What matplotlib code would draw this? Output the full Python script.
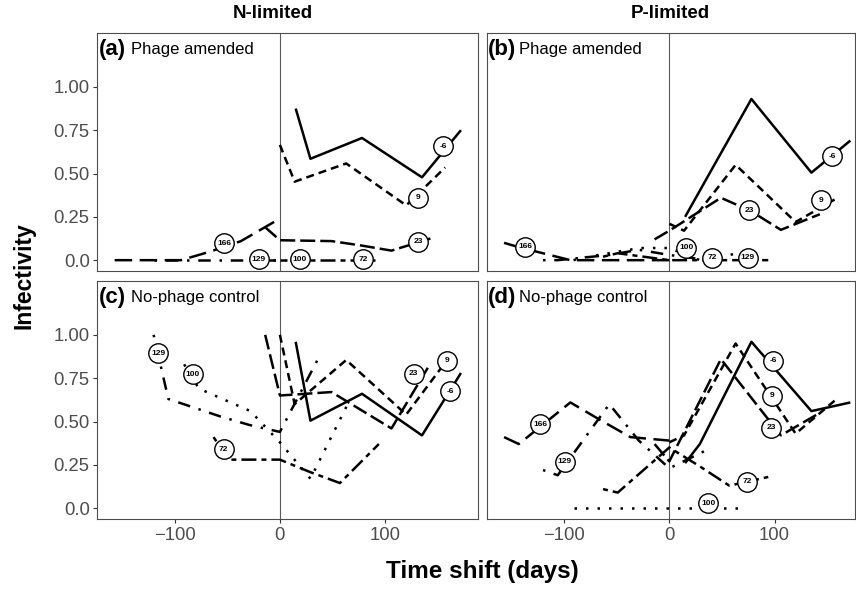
import matplotlib
matplotlib.use('Agg')
import matplotlib.pyplot as plt

plt.rcParams['font.family'] = ['Liberation Sans', 'DejaVu Sans']

PHAGES = ['-6', '9', '23', '72', '100', '129', '166']

# ---- data: time shift (days) and infectivity, per phage line ----
# (a) N-limited, phage amended
a_x = {'-6': [15, 29, 78, 135, 172], '9': [0, 14, 63, 120, 157],
       '23': [-14, 0, 49, 77, 106, 143], '72': [0, 28, 57, 94],
       '100': [-28, 0, 29], '129': [-120, -106, -57, -29, 0],
       '166': [-157, -143, -94, -66, -37, 0]}
a_y = {'-6': [0.875, 0.585, 0.705, 0.478, 0.75], '9': [0.665, 0.453, 0.558, 0.316, 0.535],
       '23': [0.19, 0.115, 0.11, 0.085, 0.055, 0.125], '72': [0, 0, 0, 0],
       '100': [0, 0, 0], '129': [0, 0, 0, 0, 0],
       '166': [0, 0, 0, 0.05, 0.11, 0.24]}
# (b) P-limited, phage amended
b_x = {'-6': [15, 78, 135, 172], '9': [0, 14, 63, 120, 157],
       '23': [-14, 0, 49, 77, 106, 143], '72': [-63, -49, 0, 28, 57, 94],
       '100': [-91, -77, -28, 0, 29, 66], '129': [-120, -106, -57, -29, 0, 37],
       '166': [-157, -143, -94, -66, -37, 0]}
b_y = {'-6': [0.25, 0.93, 0.505, 0.69], '9': [0.21, 0.17, 0.55, 0.22, 0.35],
       '23': [0.12, 0.17, 0.36, 0.285, 0.175, 0.265], '72': [0.02, 0.04, 0, 0, 0, 0],
       '100': [0, 0.02, 0.07, 0.07, 0, 0.04], '129': [0, 0, 0.03, 0.06, 0.03, 0],
       '166': [0.10, 0.075, 0, 0, 0, 0]}
# (c) N-limited, no-phage control
c_x = {'-6': [15, 29, 78, 135, 172], '9': [0, 14, 63, 120, 157],
       '23': [-14, 0, 49, 106, 143], '72': [-63, -49, 0, 28, 57, 94],
       '100': [-91, -77, -28, 0, 29, 66], '129': [-120, -106, -57, -29, 0, 37]}
c_y = {'-6': [0.96, 0.505, 0.66, 0.42, 0.78], '9': [1.0, 0.60, 0.855, 0.54, 0.84],
       '23': [1.0, 0.65, 0.67, 0.46, 0.835], '72': [0.41, 0.28, 0.28, 0.21, 0.145, 0.37],
       '100': [0.83, 0.69, 0.56, 0.38, 0.17, 0.62], '129': [1.0, 0.63, 0.53, 0.48, 0.44, 0.87]}
# (d) P-limited, no-phage control
d_x = {'-6': [15, 29, 78, 135, 172], '9': [0, 14, 63, 120, 157],
       '23': [-14, 0, 49, 106, 143], '72': [-63, -49, 0, 28, 57, 94],
       '100': [-91, -77, -28, 0, 29, 66], '129': [-120, -106, -57, -29, 0, 37],
       '166': [-157, -143, -94, -66, -37, 0]}
d_y = {'-6': [0.26, 0.37, 0.96, 0.56, 0.61], '9': [0.38, 0.42, 0.95, 0.43, 0.62],
       '23': [0.37, 0.27, 0.86, 0.42, 0.55], '72': [0.11, 0.09, 0.35, 0.245, 0.13, 0.18],
       '100': [0, 0, 0, 0, 0, 0], '129': [0.22, 0.19, 0.60, 0.39, 0.23, 0.34],
       '166': [0.41, 0.37, 0.61, 0.51, 0.41, 0.39]}

# direct-label positions (x, y) per phage
a_lab = {'-6': (155, 0.658), '9': (131.5, 0.36), '23': (131.5, 0.105), '72': (79, 0.006),
         '100': (19, 0.006), '129': (-20, 0.006), '166': (-53, 0.098)}
b_lab = {'-6': (155, 0.60), '9': (144, 0.345), '23': (76, 0.288), '72': (41, 0.015),
         '100': (16, 0.073), '129': (74.5, 0.015), '166': (-137, 0.077)}
c_lab = {'-6': (161.6, 0.674), '9': (158.5, 0.852), '23': (127, 0.776), '72': (-53.5, 0.339),
         '100': (-83, 0.774), '129': (-115.6, 0.895)}
d_lab = {'-6': (98.6, 0.852), '9': (97.6, 0.649), '23': (97, 0.464), '72': (74, 0.151),
         '100': (37, 0.027), '129': (-99.2, 0.268), '166': (-122.6, 0.483)}

COL_TITLES = ['N-limited', 'P-limited']
ROW_TITLES = ['Phage amended', 'No-phage control']
TAGS = ['(a)', '(b)', '(c)', '(d)']
Y_TICKS = [0.0, 0.25, 0.5, 0.75, 1.0]
Y_TICKLABELS = ['0.0', '0.25', '0.50', '0.75', '1.00']
X_TICKS = [-100, 0, 100]

# ---- styles ----
LS = {'-6': '-', '9': (0, (3.2, 2.0)), '23': (0, (6, 2)), '72': (0, (2, 2, 6, 2)),
      '100': (0, (1, 3.6)), '129': (0, (1, 3.5, 5, 3.5)), '166': (0, (7, 3))}

W, H = 856, 590
fig = plt.figure(figsize=(W / 100, H / 100), dpi=100)

def frac_box(left, top, right, bottom):
    return [left / W, 1 - bottom / H, (right - left) / W, (bottom - top) / H]

# right column is cut at the image edge (same day-scale as the left column)
boxes = [frac_box(97.3, 32.7, 478.3, 271), frac_box(486.7, 32.7, 855.3, 271),
         frac_box(97.3, 280.7, 478.3, 519), frac_box(486.7, 280.7, 855.3, 519)]
xlims = [(-173.5, 188.5), (-173.5, 176.7), (-173.5, 188.5), (-173.5, 176.7)]
panels = [(a_x, a_y, a_lab), (b_x, b_y, b_lab), (c_x, c_y, c_lab), (d_x, d_y, d_lab)]

tick_col = '#4D4D4D'
for i, (box, (px, py, plab)) in enumerate(zip(boxes, panels)):
    ax = fig.add_axes(box)
    ax.set_xlim(*xlims[i])
    ax.set_ylim(-0.0625, 1.3125)
    ax.axvline(0, color='#5a5a5a', lw=0.8, zorder=1)
    for p in PHAGES:
        if p in px:
            ax.plot(px[p], py[p], color='black', lw=1.8, linestyle=LS[p],
                    dash_capstyle='butt', solid_capstyle='butt', zorder=3)
    for p in PHAGES:
        if p in plab:
            lx, ly = plab[p]
            ax.plot([lx], [ly], 'o', ms=14, mfc='white', mec='black', mew=1.0, zorder=5)
            ax.text(lx, ly, p, ha='center', va='center', fontsize=6.0,
                    fontweight='bold', zorder=6)
    for s in ax.spines.values():
        s.set_color('#4D4D4D')
        s.set_linewidth(0.8)
    ax.set_xticks(X_TICKS)
    ax.set_yticks(Y_TICKS)
    ax.tick_params(length=3, width=0.8, color='#333333', labelcolor=tick_col,
                   labelsize=13.3, pad=2.5)
    if i % 2 == 0:
        ax.set_yticklabels(Y_TICKLABELS)
    else:
        ax.tick_params(axis='y', left=False, labelleft=False)
    if i >= 2:
        ax.set_xticklabels(['\u2212100', '0', '100'])
    else:
        ax.tick_params(axis='x', bottom=False, labelbottom=False)
    ax.text(0.003, 0.93, TAGS[i], transform=ax.transAxes, fontsize=16,
            fontweight='bold', ha='left', va='center')
    ax.text(0.088, 0.93, ROW_TITLES[i // 2], transform=ax.transAxes, fontsize=12,
            ha='left', va='center')

fig.text(273 / W, 1 - 14 / H, COL_TITLES[0], ha='center', va='center',
         fontsize=13.5, fontweight='bold')
fig.text(670 / W, 1 - 14 / H, COL_TITLES[1], ha='center', va='center',
         fontsize=13.5, fontweight='bold')
fig.text(482.6 / W, 1 - 578.3 / H, 'Time shift (days)', ha='center', va='baseline',
         fontsize=17.5, fontweight='bold')
fig.text(24 / W, 1 - 276 / H, 'Infectivity', ha='center', va='center', rotation=90,
         fontsize=16.5, fontweight='bold')

fig.savefig('out.png', dpi=100)
